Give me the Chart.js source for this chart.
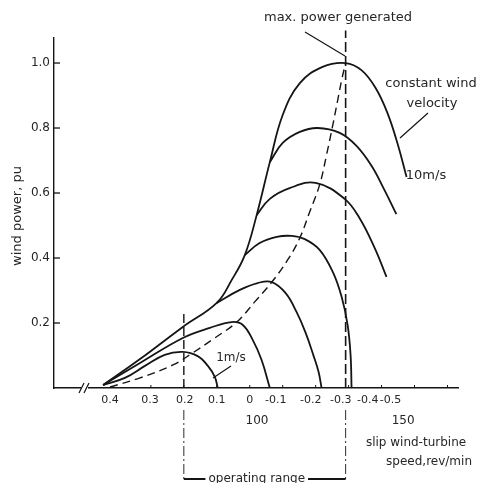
<!DOCTYPE html>
<html>
<head>
<meta charset="utf-8">
<script src="https://cdn.jsdelivr.net/npm/chart.js@4.4.1/dist/chart.umd.min.js"></script>
<style>
    html, body { margin: 0; padding: 0; background: #fff; }
</style>
</head>
<body>
<canvas id="windChart" width="481" height="483"></canvas>
<script>
// values: slip (pu) on x, wind power (pu) on y
const v10Slip   = [0.445, 0.333, 0.203, 0.1, 0.055, 0.015, -0.021, -0.061, -0.1, -0.152, -0.221, -0.291, -0.339, -0.382, -0.418, -0.448, -0.476];
const v10Power  = [0.009, 0.089, 0.188, 0.262, 0.332, 0.409, 0.532, 0.695, 0.84, 0.938, 0.988, 1.0, 0.978, 0.923, 0.846, 0.754, 0.649];
const v8Slip    = [-0.061, -0.1, -0.152, -0.206, -0.273, -0.324, -0.37, -0.409, -0.445];
const v8Power   = [0.695, 0.754, 0.788, 0.8, 0.785, 0.745, 0.683, 0.609, 0.535];
const v6Slip    = [-0.021, -0.061, -0.121, -0.2, -0.288, -0.333, -0.379, -0.415];
const v6Power   = [0.532, 0.582, 0.615, 0.631, 0.582, 0.523, 0.431, 0.342];
const v5Slip    = [0.015, -0.03, -0.082, -0.127, -0.167, -0.212, -0.252, -0.279, -0.297, -0.306, -0.309];
const v5Power   = [0.409, 0.446, 0.465, 0.468, 0.458, 0.425, 0.357, 0.28, 0.194, 0.102, 0];
const v3Slip    = [0.1, 0.03, -0.024, -0.067, -0.109, -0.142, -0.17, -0.194, -0.209, -0.218];
const v3Power   = [0.262, 0.302, 0.323, 0.326, 0.292, 0.234, 0.169, 0.098, 0.049, 0];
const v2Slip    = [0.445, 0.333, 0.203, 0.121, 0.055, 0.021, -0.009, -0.036, -0.061];
const v2Power   = [0.009, 0.077, 0.154, 0.185, 0.203, 0.194, 0.148, 0.086, 0];
const v1Slip    = [0.445, 0.379, 0.318, 0.258, 0.203, 0.158, 0.127, 0.106, 0.097];
const v1Power   = [0.009, 0.031, 0.068, 0.102, 0.111, 0.098, 0.068, 0.034, 0];
const maxPSlip  = [0.424, 0.333, 0.233, 0.173, 0.106, 0.039, -0.015, -0.067, -0.115, -0.152, -0.182, -0.212, -0.233, -0.252, -0.267, -0.279, -0.291];
const maxPPower = [0.003, 0.031, 0.071, 0.108, 0.154, 0.203, 0.265, 0.326, 0.394, 0.462, 0.542, 0.625, 0.717, 0.809, 0.886, 0.948, 1.0];

// operating range limits (slip) and how high the dashed markers go
const rangeSlip  = [0.2, -0.291];
const rangeTop   = [0.24, 1.1];

// ticks
const yTicks        = [0.2, 0.4, 0.6, 0.8, 1.0];
const slipLabels    = ['0.4', '0.3', '0.2', '0.1', '0', '-0.1', '-0.2', '-0.3', '-0.4', '-0.5'];
const slipLabelAt   = [0.424, 0.303, 0.197, 0.1, 0, -0.079, -0.185, -0.276, -0.358, -0.427];
const slipMinorTicks = [0.3, 0.2, 0.1, 0, -0.1, -0.2, -0.3, -0.4, -0.5, -0.6];
const speedTicks    = [100, 150];

const ink = '#151515';
const textInk = '#262626';
const fontFam = "'DejaVu Sans', sans-serif";

function toPoints(sl, pw) {
    return sl.map((s, i) => ({ x: s, y: pw[i] }));
}

function curve(label, sl, pw, extra) {
    return Object.assign({
        label: label,
        data: toPoints(sl, pw),
        borderColor: ink,
        borderWidth: 1.8,
        pointRadius: 0,
        showLine: true,
        fill: false,
        tension: 0.4
    }, extra || {});
}

const figureNotes = {
    id: 'figureNotes',
    afterDraw(chart) {
        const { ctx, chartArea, scales } = chart;
        const xs = scales.x, ys = scales.y;
        const x0 = chartArea.left, yb = chartArea.bottom;
        ctx.save();
        ctx.strokeStyle = ink;

        // inward ticks on power axis
        ctx.lineWidth = 1.3;
        yTicks.forEach(v => {
            const py = ys.getPixelForValue(v);
            ctx.beginPath(); ctx.moveTo(x0, py); ctx.lineTo(x0 + 6, py); ctx.stroke();
        });

        // tiny ticks on slip axis
        ctx.lineWidth = 1;
        slipMinorTicks.forEach(v => {
            const px = xs.getPixelForValue(v);
            ctx.beginPath(); ctx.moveTo(px, yb); ctx.lineTo(px, yb - 3); ctx.stroke();
        });

        // axis break
        ctx.fillStyle = '#fff';
        ctx.fillRect(81, yb - 3, 7, 6);
        ctx.lineWidth = 1.2;
        ctx.beginPath();
        ctx.moveTo(79, yb + 5); ctx.lineTo(84, yb - 5);
        ctx.moveTo(84, yb + 5); ctx.lineTo(89, yb - 5);
        ctx.stroke();

        // operating range: thin dash-dot drop lines + bracket
        const xL = xs.getPixelForValue(rangeSlip[0]);
        const xR = xs.getPixelForValue(rangeSlip[1]);
        ctx.lineWidth = 0.9;
        ctx.setLineDash([10, 3, 2, 3]);
        [xL, xR].forEach(px => {
            ctx.beginPath(); ctx.moveTo(px, 410); ctx.lineTo(px, 481); ctx.stroke();
        });
        ctx.setLineDash([]);

        ctx.font = '12px ' + fontFam;
        ctx.fillStyle = textInk;
        ctx.textBaseline = 'middle';
        const br = 'operating range';
        const bw = ctx.measureText(br).width;
        const bc = (xL + xR) / 2 - 8;
        ctx.textAlign = 'center';
        ctx.fillText(br, bc, 479);
        ctx.lineWidth = 1.8;
        ctx.beginPath();
        ctx.moveTo(xL, 479); ctx.lineTo(bc - bw / 2 - 3, 479);
        ctx.moveTo(bc + bw / 2 + 3, 479); ctx.lineTo(xR, 479);
        ctx.stroke();

        // annotations
        ctx.font = '13px ' + fontFam;
        ctx.fillText('max. power generated', 338, 18);
        ctx.fillText('constant wind', 431, 84);
        ctx.fillText('velocity', 432, 104);
        ctx.fillText('10m/s', 426, 176);
        ctx.font = '12px ' + fontFam;
        ctx.fillText('1m/s', 231, 358);
        ctx.fillText('slip wind-turbine', 416, 443);
        ctx.textAlign = 'right';
        ctx.fillText('speed,rev/min', 472, 462);

        ctx.lineWidth = 1.2;
        ctx.beginPath();
        ctx.moveTo(305, 32); ctx.lineTo(345, 56);
        ctx.moveTo(428, 113); ctx.lineTo(400, 138);
        ctx.moveTo(213, 378); ctx.lineTo(231, 366);
        ctx.stroke();

        // power axis title
        ctx.translate(18, 216);
        ctx.rotate(-Math.PI / 2);
        ctx.textAlign = 'center';
        ctx.font = '13px ' + fontFam;
        ctx.fillText('wind power, pu', 0, 0);
        ctx.restore();
    }
};

new Chart(document.getElementById('windChart').getContext('2d'), {
    type: 'scatter',
    data: {
        datasets: [
            curve('10 m/s', v10Slip, v10Power),
            curve('8', v8Slip, v8Power),
            curve('6', v6Slip, v6Power),
            curve('5', v5Slip, v5Power),
            curve('3', v3Slip, v3Power),
            curve('2', v2Slip, v2Power),
            curve('1 m/s', v1Slip, v1Power),
            curve('max. power', maxPSlip, maxPPower, { borderWidth: 1.4, borderDash: [8, 5] }),
            curve('low limit', [rangeSlip[0], rangeSlip[0]], [0, rangeTop[0]], { borderWidth: 1.4, borderDash: [9, 4], tension: 0 }),
            curve('high limit', [rangeSlip[1], rangeSlip[1]], [0, rangeTop[1]], { borderWidth: 1.6, borderDash: [10, 4], tension: 0, clip: false })
        ]
    },
    options: {
        responsive: false,
        animation: false,
        layout: { padding: { left: 0, top: 38, right: 23, bottom: 0 } },
        plugins: { legend: { display: false }, tooltip: { enabled: false } },
        scales: {
            x: {
                type: 'linear',
                reverse: true,
                min: -0.632,
                max: 0.594,
                weight: 0,
                afterFit: (s) => { s.height = 25; },
                afterBuildTicks: (s) => { s.ticks = slipLabelAt.map(v => ({ value: v })); },
                ticks: {
                    autoSkip: false,
                    maxRotation: 0,
                    padding: 6,
                    color: textInk,
                    font: { family: fontFam, size: 11 },
                    callback: (v, i) => slipLabels[i]
                },
                grid: { display: false, drawTicks: false },
                border: { display: true, color: ink, width: 1.6 }
            },
            x2: {
                type: 'linear',
                position: 'bottom',
                min: 30.5,
                max: 168.8,
                weight: 1,
                afterFit: (s) => { s.height = 70; },
                afterBuildTicks: (s) => { s.ticks = speedTicks.map(v => ({ value: v })); },
                ticks: {
                    autoSkip: false,
                    maxRotation: 0,
                    padding: 1,
                    color: textInk,
                    font: { family: fontFam, size: 12 }
                },
                grid: { display: false, drawTicks: false },
                border: { display: false }
            },
            y: {
                type: 'linear',
                min: 0,
                max: 1.077,
                afterFit: (s) => { s.width = 54; },
                afterBuildTicks: (s) => { s.ticks = yTicks.map(v => ({ value: v })); },
                ticks: {
                    padding: 4,
                    color: textInk,
                    font: { family: fontFam, size: 12 },
                    callback: (v) => v.toFixed(1)
                },
                grid: { display: false, drawTicks: false },
                border: { display: true, color: ink, width: 1.4 }
            }
        }
    },
    plugins: [figureNotes]
});
</script>
</body>
</html>
